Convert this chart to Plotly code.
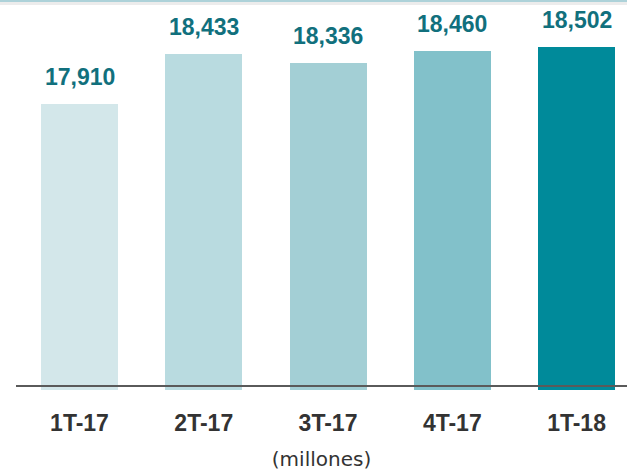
import plotly.graph_objects as go

# Quarterly totals (millions)
quarters = ["1T-17", "2T-17", "3T-17", "4T-17", "1T-18"]
values = [17910, 18433, 18336, 18460, 18502]
bar_colors = ["#d3e7ea", "#b9dbe0", "#a3cfd5", "#82c1ca", "#008a9a"]

BOLD_FONT = "Liberation Sans, Arial"

fig = go.Figure(
    go.Bar(
        x=quarters,
        y=values,
        marker=dict(color=bar_colors, line=dict(width=0)),
        width=0.62,
        hoverinfo="skip",
    )
)

# Value labels above each bar
for q, v in zip(quarters, values):
    fig.add_annotation(
        x=q, y=v, text=f"{v:,}", showarrow=False,
        yanchor="bottom", yshift=12,
        font=dict(family=BOLD_FONT, size=23, color="#11707d", weight="bold"),
    )

# Baseline rule across the chart
fig.add_shape(type="line", xref="paper", yref="paper",
              x0=0, x1=1, y0=4 / 385, y1=4 / 385,
              line=dict(color="#5a5a5a", width=2))
# Thin teal rule with soft shadow at the top edge
fig.add_shape(type="rect", xref="paper", yref="paper",
              x0=-0.03, x1=1.01, y0=1.0, y1=1 + 3 / 385,
              fillcolor="#ececec", line=dict(width=0))
fig.add_shape(type="rect", xref="paper", yref="paper",
              x0=-0.03, x1=1.01, y0=1 + 3 / 385, y1=1 + 6 / 385,
              fillcolor="#add2d9", line=dict(width=0))

fig.update_layout(
    width=627, height=471,
    margin=dict(l=16, r=0, t=5, b=81),
    paper_bgcolor="white", plot_bgcolor="white",
    showlegend=False,
    bargap=0,
    xaxis=dict(
        range=[-0.511, 4.406],
        showline=False, showgrid=False, zeroline=False,
        ticks="outside", ticklen=12, tickcolor="rgba(0,0,0,0)",
        tickfont=dict(family=BOLD_FONT, size=23, color="#333333", weight="bold"),
        title=dict(text="(millones)", standoff=18,
                   font=dict(family="DejaVu Sans", size=20, color="#333333")),
        fixedrange=True,
    ),
    yaxis=dict(
        range=[14921, 18944],
        visible=False, showgrid=False, zeroline=False,
        fixedrange=True,
    ),
)

fig.write_html("out.html")
